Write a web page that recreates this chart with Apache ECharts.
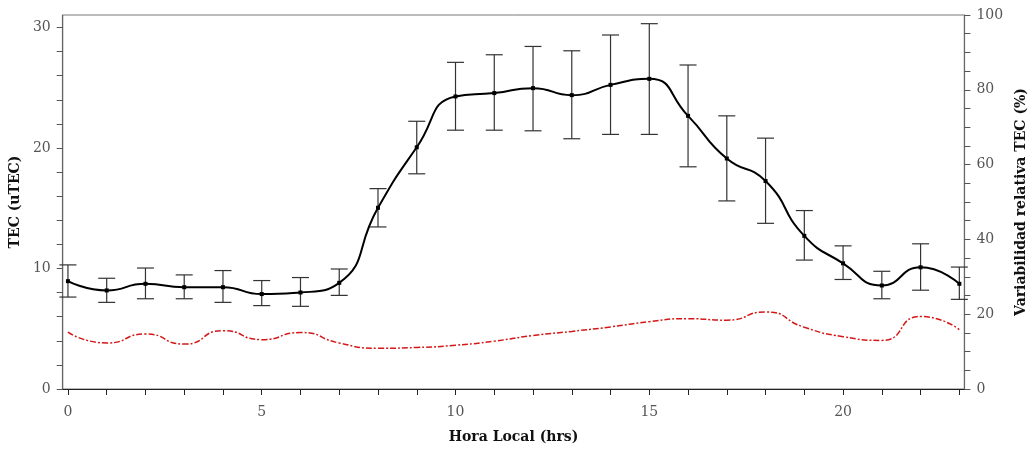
<!DOCTYPE html>
<html>
<head>
<meta charset="utf-8">
<script src="https://cdn.jsdelivr.net/npm/echarts@6/dist/echarts.min.js"></script>
<style>
html,body{margin:0;padding:0;background:#fff;overflow:hidden;}
#chart{width:1036px;height:449px;}
</style>
</head>
<body>
<div id="chart"></div>
<script>
const hours = [0,1,2,3,4,5,6,7,8,9,10,11,12,13,14,15,16,17,18,19,20,21,22,23];
const tecMean = [8.95, 8.18, 8.73, 8.45, 8.45, 7.88, 8.01, 8.81, 15.04, 20.06, 24.28, 24.56, 24.97, 24.39, 25.24, 25.74, 22.67, 19.13, 17.26, 12.71, 10.43, 8.59, 10.1, 8.73];
const tecUpper = [10.3, 9.19, 10.04, 9.47, 9.83, 9.0, 9.25, 9.96, 16.63, 22.22, 27.11, 27.74, 28.43, 28.07, 29.38, 30.32, 26.89, 22.67, 20.82, 14.81, 11.88, 9.77, 12.05, 10.12];
const tecLower = [7.63, 7.19, 7.49, 7.49, 7.19, 6.92, 6.86, 7.77, 13.45, 17.86, 21.48, 21.48, 21.43, 20.77, 21.13, 21.13, 18.44, 15.61, 13.75, 10.7, 9.09, 7.49, 8.2, 7.44];
const variability = [15.2, 12.3, 14.7, 12.0, 15.6, 13.2, 15.1, 12.3, 10.9, 11.1, 11.7, 12.8, 14.3, 15.4, 16.6, 18.0, 18.8, 18.4, 20.6, 16.5, 14.0, 13.0, 19.4, 15.9];
const xLabelValues = [0,5,10,15,20];
const xTickValues = hours;
const yLeftLabels = [0,10,20,30];
const yLeftTicks = [0,2,4,6,8,10,12,14,16,18,20,22,24,26,28,30];
const yRightLabels = [0,20,40,60,80,100];
const yRightTicks = [0,5,10,15,20,25,30,35,40,45,50,55,60,65,70,75,80,85,90,95,100];

const FONT = '"DejaVu Serif", "Liberation Serif", serif';
const chart = echarts.init(document.getElementById('chart'), null, {renderer:'canvas', width:1036, height:449});

const meanData = hours.map((h,i)=>[h, tecMean[i]]);
const errData = hours.map((h,i)=>[h, tecLower[i], tecUpper[i]]);
const varData = hours.map((h,i)=>[h, variability[i]]);

const labelStyle = {color:'#555', fontFamily: FONT, fontSize: 14};
const nameStyle = {color:'#111', fontFamily: FONT, fontSize: 14, fontWeight:'bold'};

chart.setOption({
  animation:false,
  backgroundColor:'#fff',
  grid:{left:62, right:61, top:15, bottom:56, show:true, borderColor:'#777', borderWidth:1, containLabel:false},
  xAxis:{
    type:'value', min:-0.135, max:23.13,
    name:'Hora Local (hrs)', nameLocation:'middle', nameGap:41, nameTextStyle:nameStyle,
    axisLine:{show:true, onZero:false, lineStyle:{color:'#222', width:1.2}},
    axisTick:{show:true, inside:false, length:6, customValues:xTickValues, lineStyle:{color:'#222'}},
    axisLabel:{show:true, margin:16, customValues:xLabelValues, ...labelStyle},
    splitLine:{show:false}
  },
  yAxis:[
    {
      type:'value', min:0, max:31.04, position:'left',
      name:'TEC (uTEC)', nameLocation:'middle', nameGap:34, nameRotate:90, nameTextStyle:nameStyle,
      axisLine:{show:true, onZero:false, lineStyle:{color:'#666', width:1.2}},
      axisTick:{show:true, length:6, customValues:yLeftTicks, lineStyle:{color:'#555'}},
      axisLabel:{show:true, margin:12, customValues:yLeftLabels, ...labelStyle},
      splitLine:{show:false}
    },
    {
      type:'value', min:0, max:100, position:'right',
      name:'Variabilidad relativa TEC (%)', nameLocation:'middle', nameGap:43, nameRotate:90, nameTextStyle:nameStyle,
      axisLine:{show:true, onZero:false, lineStyle:{color:'#666', width:1.2}},
      axisTick:{show:true, length:6, customValues:yRightTicks, lineStyle:{color:'#555'}},
      axisLabel:{show:true, margin:12, customValues:yRightLabels, ...labelStyle},
      splitLine:{show:false}
    }
  ],
  series:[
    {
      type:'line', yAxisIndex:1, data:varData, smooth:0.6,
      showSymbol:false, symbol:'none',
      lineStyle:{color:'#d41818', width:1.5, type:[6,2,2,2]},
      z:2
    },
    {
      type:'custom', yAxisIndex:0, data:errData,
      renderItem:function(params, api){
        const x = api.value(0);
        const lo = api.coord([x, api.value(1)]);
        const hi = api.coord([x, api.value(2)]);
        const hw = 8.5;
        const style = {stroke:'#333', lineWidth:1.2};
        return {type:'group', children:[
          {type:'line', shape:{x1:lo[0], y1:lo[1], x2:hi[0], y2:hi[1]}, style:style},
          {type:'line', shape:{x1:lo[0]-hw, y1:lo[1], x2:lo[0]+hw, y2:lo[1]}, style:style},
          {type:'line', shape:{x1:hi[0]-hw, y1:hi[1], x2:hi[0]+hw, y2:hi[1]}, style:style}
        ]};
      },
      z:3
    },
    {
      type:'line', yAxisIndex:0, data:meanData, smooth:0.55,
      symbol:'rect', symbolSize:4, showSymbol:true,
      itemStyle:{color:'#000'},
      lineStyle:{color:'#000', width:2},
      z:4
    }
  ]
});
</script>
</body>
</html>
